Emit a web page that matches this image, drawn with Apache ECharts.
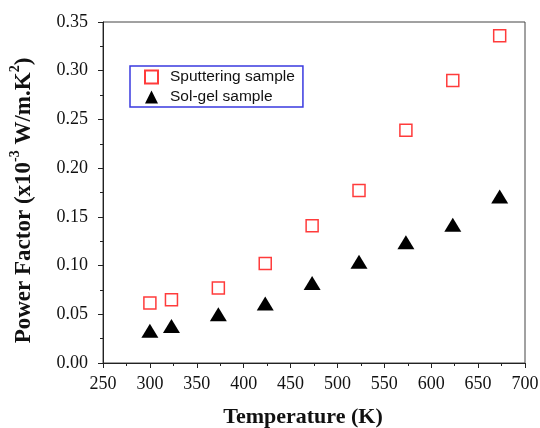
<!DOCTYPE html>
<html><head><meta charset="utf-8">
<script src="https://cdn.jsdelivr.net/npm/echarts@6/dist/echarts.min.js"></script>
<style>html,body{margin:0;padding:0;background:#fff}#c{width:540px;height:428px}</style>
</head><body><div id="c"></div>
<script>
const temps = [300, 323, 373, 423, 473, 523, 573, 623, 673];
const sputtering = [0.0615, 0.065, 0.077, 0.102, 0.141, 0.177, 0.239, 0.290, 0.336];
const solgel = [0.033, 0.038, 0.050, 0.061, 0.082, 0.104, 0.124, 0.142, 0.171];
const seriesNames = ['Sputtering sample', 'Sol-gel sample'];
const xTicks = [250, 700, 50];
const yTicks = [0, 0.35, 0.05];

const chart = echarts.init(document.getElementById('c'));
const serif = '"Liberation Serif", "Times New Roman", serif';
const axisLine = {show: true, onZero: false, lineStyle: {color: '#222', width: 1}};
const axisTick = {show: true, inside: false, length: 5, lineStyle: {color: '#222'}};
const minorTick = {show: true, splitNumber: 2, length: 3, lineStyle: {color: '#222'}};
chart.setOption({
  animation: false,
  grid: {left: 103, right: 15, top: 22, bottom: 65, show: true, borderColor: '#444', borderWidth: 1,
         containLabel: false, outerBoundsMode: 'none'},
  legend: {
    left: 130, top: 66, orient: 'vertical', itemGap: 4, itemWidth: 13, itemHeight: 13,
    padding: [3, 8, 2, 14],
    borderColor: '#3a3ae0', borderWidth: 1.5,
    textStyle: {fontFamily: '"Liberation Sans", Arial, sans-serif', fontSize: 15.5, color: '#111', padding: [0, 0, 0, 7]},
    data: seriesNames
  },
  xAxis: {
    type: 'value', min: xTicks[0], max: xTicks[1], interval: xTicks[2],
    name: 'Temperature (K)', nameLocation: 'middle', nameGap: 43,
    nameTextStyle: {fontFamily: serif, fontSize: 22, fontWeight: 'bold', color: '#111', padding: [0, 22, 0, 0]},
    axisLine, axisTick, minorTick, splitLine: {show: false},
    axisLabel: {fontFamily: serif, fontSize: 18, color: '#111', margin: 12}
  },
  yAxis: {
    type: 'value', min: yTicks[0], max: yTicks[1], interval: yTicks[2],
    name: '{a|Power Factor (x10}{s|-3}{a| W/m.K}{s|2}{a|)}',
    nameLocation: 'middle', nameGap: 67,
    nameTextStyle: {
      padding: [0, 16, 0, 0],
      rich: {
        a: {fontFamily: serif, fontSize: 23, fontWeight: 'bold', color: '#111', lineHeight: 28, verticalAlign: 'bottom'},
        s: {fontFamily: serif, fontSize: 14, fontWeight: 'bold', color: '#111', lineHeight: 28, verticalAlign: 'top', padding: [0, 0, 12, 0]}
      }
    },
    axisLine, axisTick, minorTick, splitLine: {show: false},
    axisLabel: {fontFamily: serif, fontSize: 18, color: '#111', margin: 15, formatter: v => v.toFixed(2)}
  },
  series: [
    {
      name: seriesNames[0], type: 'scatter', symbol: 'rect', symbolSize: 12,
      itemStyle: {color: '#fff', borderColor: '#ff3b3b', borderWidth: 1.5, opacity: 1},
      data: temps.map((t, i) => [t, sputtering[i]])
    },
    {
      name: seriesNames[1], type: 'scatter', symbol: 'triangle', symbolSize: [17, 14],
      itemStyle: {color: '#000', opacity: 1},
      data: temps.map((t, i) => [t, solgel[i]])
    }
  ]
});
</script></body></html>
